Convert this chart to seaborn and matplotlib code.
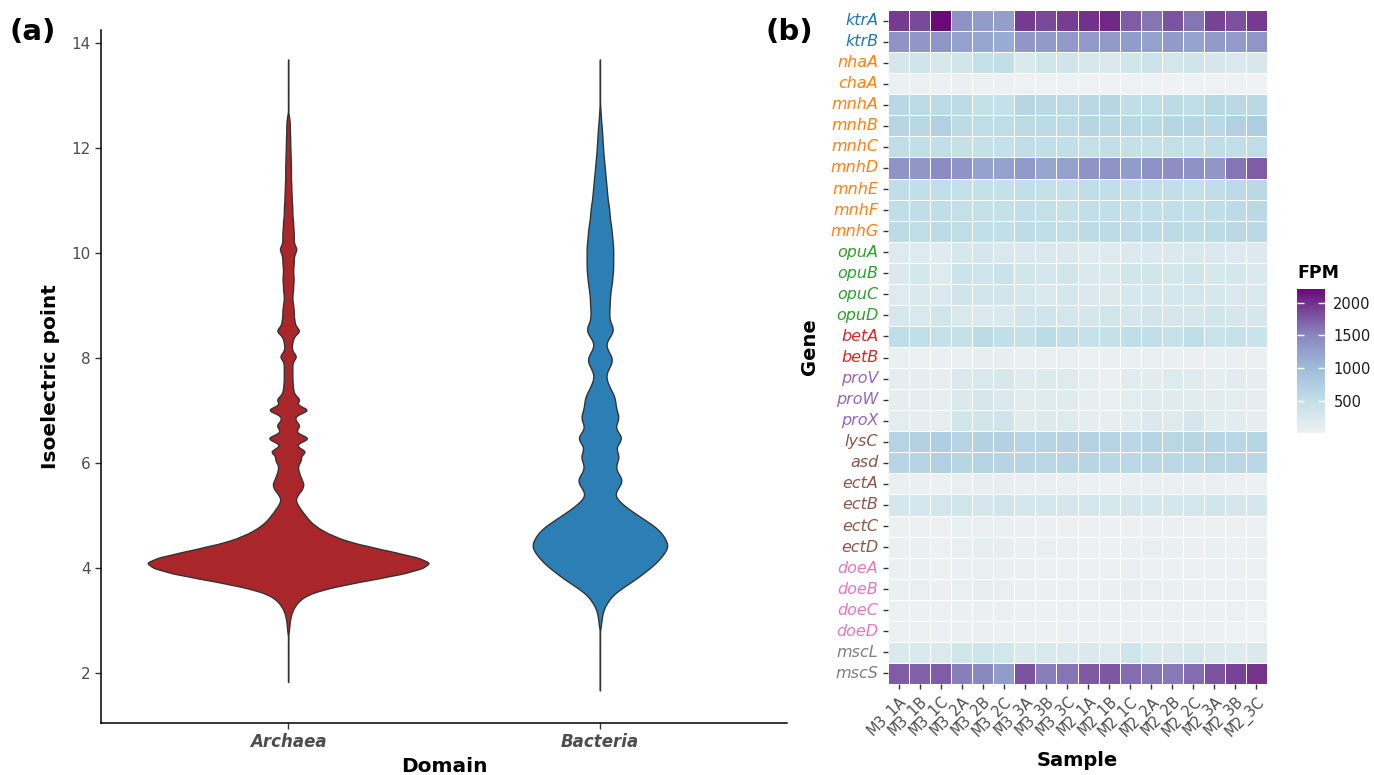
import numpy as np
import pandas as pd
import matplotlib
matplotlib.use("Agg")
import matplotlib.pyplot as plt
import seaborn as sns
from matplotlib.colors import LinearSegmentedColormap

# ---- panel (a): isoelectric point distributions (binned counts) ----
domains = ["Archaea", "Bacteria"]
domain_colors = {"Archaea": "#A9272A", "Bacteria": "#2C7FB5"}

arch_pi = [1.83, 2.2, 2.5,
           2.8, 2.9, 3.0, 3.1, 3.2, 3.3, 3.4, 3.5, 3.6, 3.7, 3.8, 3.9,
           4.0, 4.1, 4.2, 4.3, 4.4, 4.5, 4.6, 4.7, 4.8, 4.9,
           5.0, 5.1, 5.2, 5.3, 5.4, 5.5, 5.6, 5.7, 5.8, 5.9,
           6.0, 6.1, 6.2, 6.3, 6.4, 6.5, 6.6, 6.7, 6.8, 6.9,
           7.0, 7.1, 7.2, 7.3, 7.4, 7.5, 7.6, 7.7, 7.8, 7.9,
           8.0, 8.1, 8.2, 8.3, 8.4, 8.5, 8.6, 8.7, 8.8, 8.9,
           9.0, 9.1, 9.2, 9.3, 9.4, 9.5, 9.6, 9.7, 9.8, 9.9,
           10.0, 10.1, 10.2, 10.3, 10.4, 10.5, 10.6, 10.7, 10.8, 10.9,
           11.0, 11.1, 11.2, 11.3, 11.4, 11.5, 11.6, 11.7, 11.8, 11.9,
           12.0, 12.1, 12.2, 12.3, 12.4, 12.5, 12.6, 12.9, 13.2, 13.68]
arch_n = [1, 1, 2,
          8, 12, 18, 28, 45, 75, 120, 200, 360, 600, 880, 1150,
          1330, 1410, 1280, 1050, 820, 600, 460, 350, 270, 210,
          170, 130, 95, 70, 95, 140, 155, 130, 110, 95,
          100, 105, 95, 75, 85, 85, 75, 85, 65, 70,
          85, 70, 85, 60, 50, 45, 42, 42, 42, 42,
          50, 42, 35, 42, 56, 84, 70, 63, 56, 56,
          50, 42, 42, 50, 50, 56, 50, 50, 56, 56,
          63, 63, 56, 56, 56, 50, 50, 42, 42, 40,
          36, 35, 32, 31, 28, 28, 28, 27, 25, 24,
          22, 21, 20, 18, 17, 16, 8, 1, 1, 1]
# sharp peaks of identical pI values
arch_peak_pi = [6.06, 6.22, 6.47, 6.72, 7.01, 7.21, 8.03, 8.52, 10.07]
arch_peak_n = [30, 100, 145, 40, 145, 40, 40, 40, 25]

bact_pi = [1.67, 2.2, 2.6,
           2.9, 3.0, 3.1, 3.2, 3.3, 3.4, 3.5, 3.6, 3.7, 3.8, 3.9,
           4.0, 4.1, 4.2, 4.3, 4.4, 4.5, 4.6, 4.7, 4.8, 4.9,
           5.0, 5.1, 5.2, 5.3, 5.4, 5.5, 5.6, 5.7, 5.8, 5.9,
           6.0, 6.1, 6.2, 6.3, 6.4, 6.5, 6.6, 6.7, 6.8, 6.9,
           7.0, 7.1, 7.2, 7.3, 7.4, 7.5, 7.6, 7.7, 7.8, 7.9,
           8.0, 8.1, 8.2, 8.3, 8.4, 8.5, 8.6, 8.7, 8.8, 8.9,
           9.0, 9.1, 9.2, 9.3, 9.4, 9.5, 9.6, 9.7, 9.8, 9.9,
           10.0, 10.1, 10.2, 10.3, 10.4, 10.5, 10.6, 10.7, 10.8, 10.9,
           11.0, 11.1, 11.2, 11.3, 11.4, 11.5, 11.6, 11.7, 11.8, 11.9,
           12.0, 12.1, 12.2, 12.3, 12.4, 12.5, 12.6, 12.7, 12.8, 13.1, 13.68]
bact_n = [1, 1, 2,
          10, 15, 23, 35, 60, 95, 140, 210, 290, 370, 440,
          510, 570, 620, 660, 690, 680, 650, 610, 550, 470,
          390, 310, 240, 180, 150, 175, 215, 225, 185, 160,
          170, 195, 180, 160, 205, 225, 175, 155, 185, 190,
          170, 160, 155, 140, 110, 85, 65, 65, 90, 120,
          125, 95, 65, 65, 100, 135, 130, 100, 95, 95,
          100, 100, 105, 110, 120, 125, 130, 135, 135, 135,
          135, 135, 130, 125, 120, 115, 105, 100, 95, 90,
          80, 75, 70, 65, 60, 55, 50, 45, 40, 35,
          32, 28, 25, 22, 18, 13, 9, 6, 3, 1, 1]

# ---- panel (b): osmoprotection gene expression (FPM) ----
samples = ["M3_1A", "M3_1B", "M3_1C", "M3_2A", "M3_2B", "M3_2C",
           "M3_3A", "M3_3B", "M3_3C", "M2_1A", "M2_1B", "M2_1C",
           "M2_2A", "M2_2B", "M2_2C", "M2_3A", "M2_3B", "M2_3C"]
genes = ["ktrA", "ktrB", "nhaA", "chaA", "mnhA", "mnhB", "mnhC", "mnhD",
         "mnhE", "mnhF", "mnhG", "opuA", "opuB", "opuC", "opuD", "betA",
         "betB", "proV", "proW", "proX", "lysC", "asd", "ectA", "ectB",
         "ectC", "ectD", "doeA", "doeB", "doeC", "doeD", "mscL", "mscS"]
gene_colors = (["#1f77b4"] * 2 + ["#ff7f0e"] * 9 + ["#2ca02c"] * 4 +
               ["#d62728"] * 2 + ["#9467bd"] * 3 + ["#8c564b"] * 6 +
               ["#e377c2"] * 4 + ["#7f7f7f"] * 2)
fpm_values = [
    [1950, 1850, 2210, 1400, 1300, 1280, 1950, 1850, 1930, 2000, 2050, 1750, 1600, 1800, 1600, 1900, 1820, 1950],
    [1380, 1350, 1360, 1250, 1200, 1150, 1350, 1320, 1330, 1320, 1330, 1300, 1250, 1320, 1230, 1320, 1300, 1360],
    [300, 350, 280, 330, 470, 500, 250, 330, 360, 280, 260, 330, 400, 320, 350, 290, 260, 270],
    [40, 45, 35, 60, 50, 40, 25, 20, 20, 20, 15, 25, 20, 15, 20, 20, 15, 10],
    [620, 580, 570, 560, 480, 470, 640, 590, 580, 620, 640, 520, 540, 560, 530, 630, 590, 600],
    [650, 620, 720, 560, 540, 540, 580, 570, 560, 640, 620, 590, 600, 640, 640, 610, 720, 760],
    [520, 510, 500, 480, 470, 470, 520, 510, 500, 490, 510, 480, 470, 490, 470, 520, 500, 540],
    [1380, 1350, 1450, 1380, 1250, 1250, 1330, 1200, 1250, 1380, 1380, 1300, 1400, 1420, 1400, 1350, 1600, 1750],
    [520, 500, 510, 490, 480, 470, 500, 480, 470, 520, 510, 500, 500, 510, 490, 520, 570, 600],
    [530, 520, 520, 490, 480, 470, 510, 490, 480, 510, 510, 500, 500, 510, 500, 520, 560, 600],
    [570, 540, 560, 520, 510, 510, 550, 530, 500, 570, 570, 550, 560, 560, 550, 570, 600, 610],
    [200, 210, 180, 280, 300, 260, 240, 260, 230, 190, 200, 220, 240, 240, 260, 230, 210, 220],
    [230, 310, 200, 400, 390, 420, 330, 290, 330, 250, 240, 330, 330, 310, 360, 280, 310, 240],
    [210, 240, 230, 360, 340, 330, 280, 250, 300, 230, 220, 270, 290, 310, 320, 280, 260, 260],
    [270, 260, 330, 260, 230, 240, 330, 360, 320, 300, 330, 290, 340, 300, 290, 330, 290, 300],
    [520, 500, 470, 470, 580, 500, 480, 560, 520, 460, 480, 520, 500, 450, 530, 430, 450, 420],
    [70, 50, 60, 80, 90, 90, 70, 80, 80, 50, 60, 70, 80, 70, 60, 70, 60, 60],
    [120, 130, 90, 250, 260, 270, 180, 220, 200, 100, 60, 150, 170, 200, 180, 130, 150, 120],
    [130, 120, 100, 250, 290, 260, 160, 200, 190, 100, 80, 140, 190, 180, 170, 150, 140, 120],
    [140, 130, 110, 330, 340, 360, 180, 220, 200, 120, 110, 170, 230, 200, 290, 170, 150, 130],
    [680, 700, 750, 680, 700, 700, 650, 660, 690, 690, 680, 620, 660, 630, 640, 650, 630, 640],
    [650, 660, 720, 640, 670, 660, 640, 630, 650, 640, 620, 610, 620, 610, 600, 630, 620, 620],
    [60, 60, 40, 80, 100, 90, 70, 80, 70, 40, 30, 70, 80, 60, 70, 60, 40, 30],
    [290, 300, 320, 330, 300, 330, 310, 300, 290, 290, 280, 300, 290, 310, 320, 330, 300, 290],
    [50, 50, 40, 70, 80, 70, 60, 60, 50, 40, 30, 50, 60, 60, 50, 50, 40, 30],
    [60, 70, 50, 80, 100, 90, 70, 80, 60, 50, 40, 70, 80, 70, 60, 70, 50, 70],
    [60, 70, 50, 70, 80, 70, 60, 50, 40, 50, 40, 60, 50, 40, 40, 40, 30, 30],
    [70, 80, 60, 80, 90, 80, 60, 60, 50, 50, 60, 90, 80, 70, 60, 50, 40, 40],
    [50, 50, 40, 60, 70, 60, 40, 40, 40, 30, 30, 40, 40, 40, 40, 30, 30, 20],
    [40, 40, 30, 60, 60, 50, 40, 40, 30, 30, 30, 40, 40, 30, 30, 30, 20, 20],
    [250, 240, 220, 330, 380, 320, 240, 260, 250, 230, 200, 370, 250, 230, 270, 220, 210, 230],
    [1750, 1720, 1740, 1550, 1480, 1300, 1800, 1550, 1600, 1760, 1780, 1650, 1600, 1580, 1650, 1800, 1900, 1980],
]


def build_pi_table():
    arch = np.concatenate([np.repeat(arch_pi, arch_n), np.repeat(arch_peak_pi, arch_peak_n)])
    bact = np.repeat(bact_pi, bact_n)
    return pd.DataFrame({
        "Domain": ["Archaea"] * len(arch) + ["Bacteria"] * len(bact),
        "pI": np.concatenate([arch, bact]),
    }), arch


def draw_violins(ax, df, arch):
    # narrow kernel: ~0.058 pI units for the archaeal set
    bw = 0.058 / np.std(arch)
    # no hue here so both violins share one width scale (equal areas)
    sns.violinplot(data=df, x="Domain", y="pI", order=domains, color="#888888",
                   inner=None, cut=0, bw_method=bw, gridsize=1500,
                   density_norm="area", width=0.9, linewidth=1.0,
                   linecolor="#333333", saturation=1, ax=ax)
    for coll, dom in zip(ax.collections, domains):
        coll.set_facecolor(domain_colors[dom])
    ax.set_xlim(-0.6, 1.6)
    ax.set_ylim(1.05, 14.24)
    ax.set_yticks([2, 4, 6, 8, 10, 12, 14])
    for side in ["top", "right"]:
        ax.spines[side].set_visible(False)
    for side in ["left", "bottom"]:
        ax.spines[side].set_color("black")
        ax.spines[side].set_linewidth(1.1)
    ax.tick_params(length=4, width=1, color="#333333", labelcolor="#4d4d4d", labelsize=11)
    for lab in ax.get_xticklabels():
        lab.set_fontweight("bold")
        lab.set_fontstyle("italic")
        lab.set_fontsize(12)
    ax.set_xlabel("Domain", fontsize=14.5, fontweight="bold", labelpad=4)
    ax.set_ylabel("Isoelectric point", fontsize=14.5, fontweight="bold", labelpad=8)


def draw_heatmap(ax, cax):
    fpm = pd.DataFrame(fpm_values, index=genes, columns=samples)
    cmap = LinearSegmentedColormap.from_list(
        "fpm", [(0.0, "#EFF1F2"), (0.22, "#C2E0E8"), (0.45, "#9DBCDA"),
                (0.68, "#8A86BF"), (0.9, "#74338C"), (1.0, "#6A0A78")])
    sns.heatmap(fpm, ax=ax, cbar_ax=cax, cmap=cmap, linewidths=0.45,
                linecolor="white", cbar_kws={"ticks": [500, 1000, 1500, 2000]})
    ax.tick_params(length=3.5, width=1, color="#333333")
    ax.set_xticklabels(samples, rotation=45, ha="right", rotation_mode="anchor",
                       fontsize=10.5, color="#4d4d4d")
    ax.set_yticklabels(genes, rotation=0, fontsize=11.5, fontstyle="italic")
    for lab, col in zip(ax.get_yticklabels(), gene_colors):
        lab.set_color(col)
    ax.set_xlabel("Sample", fontsize=14, fontweight="bold", labelpad=8)
    ax.set_ylabel("Gene", fontsize=14, fontweight="bold", labelpad=8)

    cbar = ax.collections[0].colorbar
    cbar.outline.set_visible(False)
    cax.tick_params(which="both", left=True, right=True, direction="in", length=5,
                    width=1, color="white", labelsize=10.5, labelcolor="#1a1a1a", pad=6)
    cax.set_title("FPM", fontsize=12.5, fontweight="bold", loc="left", pad=8)


def main():
    df, arch = build_pi_table()

    fig = plt.figure(figsize=(13.74, 7.75), dpi=100)
    ax_a = fig.add_axes([101 / 1374, 52 / 775, 686 / 1374, 693 / 775])
    ax_b = fig.add_axes([888 / 1374, 91 / 775, 379 / 1374, 674 / 775])
    cax = fig.add_axes([1297 / 1374, 342 / 775, 28 / 1374, 144 / 775])

    draw_violins(ax_a, df, arch)
    draw_heatmap(ax_b, cax)

    fig.text(10 / 1374, 1 - 32 / 775, "(a)", fontsize=21, fontweight="bold", va="center")
    fig.text(765 / 1374, 1 - 32 / 775, "(b)", fontsize=21, fontweight="bold", va="center")

    fig.savefig("out.png", dpi=100)


if __name__ == "__main__":
    main()
